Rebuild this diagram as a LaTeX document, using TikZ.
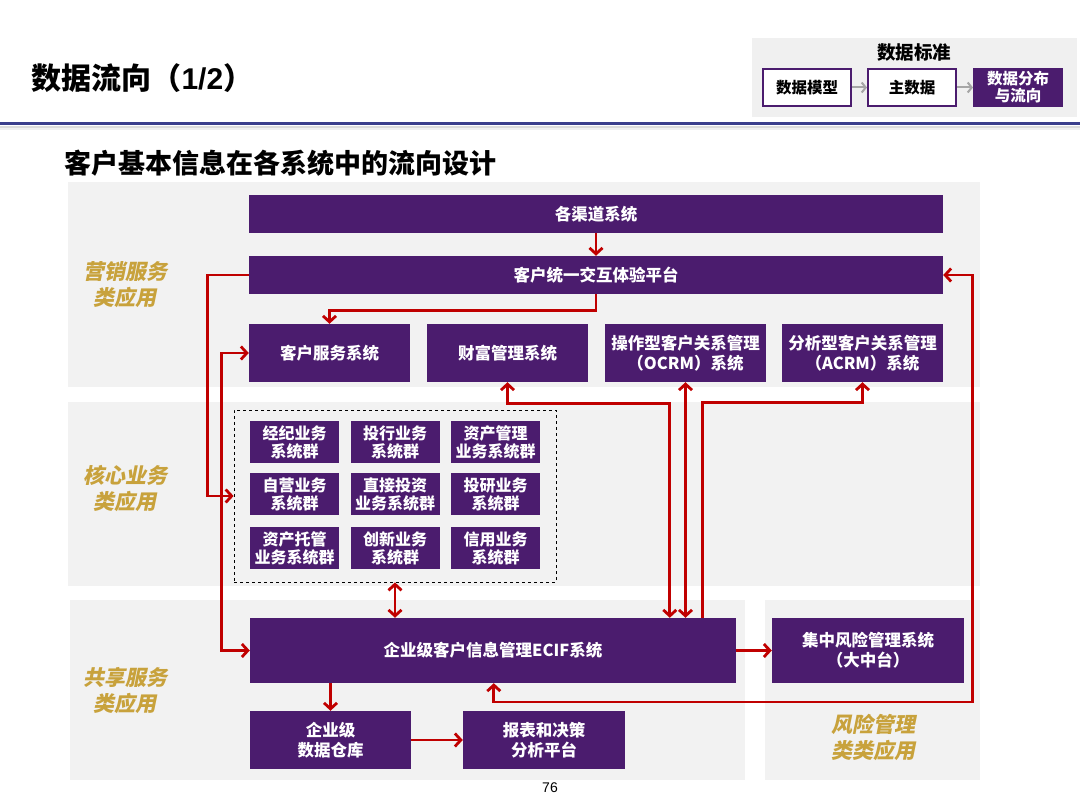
\documentclass[tikz,border=0pt]{standalone}
\usepackage{fontspec}
\setmainfont{Noto Sans CJK SC}
\newfontfamily\slantcjk{Noto Sans CJK SC}[FakeSlant=0.2]
\newfontfamily\arialnum{Liberation Sans}
\usetikzlibrary{arrows.meta}
\definecolor{purp}{RGB}{75,28,110}
\definecolor{flowred}{RGB}{192,0,0}
\definecolor{bandgray}{RGB}{242,242,242}
\definecolor{gold}{RGB}{200,162,60}
\definecolor{rulebl}{RGB}{59,63,140}
\begin{document}
\begin{tikzpicture}[x=1pt,y=-1pt,
  sysbox/.style={fill=purp, text=white, inner sep=0pt, align=center, font=\bfseries\fontsize{16.5}{20}\selectfont},
  subbox/.style={fill=purp, text=white, inner sep=0pt, align=center, minimum width=89pt, minimum height=42pt, font=\bfseries\fontsize{16}{18}\selectfont},
  hdrbox/.style={draw=purp, line width=2pt, fill=white, inner sep=0pt, align=center, minimum width=88pt, minimum height=37pt, font=\bfseries\fontsize{15.5}{18}\selectfont},
  bandlabel/.style={text=gold, align=center, font=\slantcjk\bfseries\fontsize{21}{26}\selectfont},
  flow/.style={draw=flowred, line width=2.8pt, -{Straight Barb[length=6pt,width=13pt]}},
  dflow/.style={draw=flowred, line width=2.8pt, {Straight Barb[length=6pt,width=13pt]}-{Straight Barb[length=6pt,width=13pt]}},
  hdrarrow/.style={draw=black!35, line width=2pt, -{Straight Barb[length=4pt,width=10pt]}}]
\useasboundingbox (0,0) rectangle (1080,810);
\fill[white] (0,0) rectangle (1080,810);
\node[anchor=west, font=\bfseries\fontsize{30}{34}\selectfont] (title) at (28,78) {数据流向（\textbf{\arialnum 1/2}）};
\draw[rulebl, line width=3pt] (0,124) -- (1080,124);
\draw[black!14, line width=2pt] (0,127.5) -- (1080,127.5);
\draw[black!6, line width=2pt] (0,129.5) -- (1080,129.5);
\fill[black!6] (752,38) rectangle (1077,117);
\node[font=\bfseries\fontsize{18.5}{22}\selectfont] (std) at (914,53) {数据标准};
\node[hdrbox] (model) at (807,87.5) {数据模型};
\node[hdrbox] (master) at (912,87.5) {主数据};
\node[hdrbox, fill=purp, text=white, font=\bfseries\fontsize{15.5}{17}\selectfont] (dist) at (1018,87.5) {数据分布\\与流向};
\draw[hdrarrow] (model) -- (master);
\draw[hdrarrow] (master) -- (dist);
\node[anchor=west, font=\bfseries\fontsize{27}{30}\selectfont] (subtitle) at (61,163) {客户基本信息在各系统中的流向设计};
\fill[bandgray] (68,182) rectangle (980,387);
\fill[bandgray] (68,402) rectangle (980,586);
\fill[bandgray] (70,600) rectangle (745,780);
\fill[bandgray] (765,600) rectangle (980,780);
\node[bandlabel] (lbmkt) at (125,285) {营销服务\\类应用};
\node[bandlabel] (lbcore) at (125,488) {核心业务\\类应用};
\node[bandlabel] (lbshare) at (125,691) {共享服务\\类应用};
\node[bandlabel] (lbrisk) at (873,737) {风险管理\\类类应用};
\node[sysbox, minimum width=694pt, minimum height=38pt] (chan) at (596,214) {各渠道系统};
\node[sysbox, minimum width=694pt, minimum height=38pt] (plat) at (596,275) {客户统一交互体验平台};
\node[sysbox, minimum width=161pt, minimum height=58pt] (csvc) at (329.5,353) {客户服务系统};
\node[sysbox, minimum width=161pt, minimum height=58pt] (wealth) at (507.5,353) {财富管理系统};
\node[sysbox, minimum width=161pt, minimum height=58pt] (ocrm) at (685.5,353) {操作型客户关系管理\\（OCRM）系统};
\node[sysbox, minimum width=161pt, minimum height=58pt] (acrm) at (862.5,353) {分析型客户关系管理\\（ACRM）系统};
\node[draw, dashed, line width=0.8pt, minimum width=322pt, minimum height=172pt] (core) at (395,496) {};
\node[subbox] (brk) at (294.5,442) {经纪业务\\系统群};
\node[subbox] (ibk) at (395,442) {投行业务\\系统群};
\node[subbox] (asm) at (495.5,442) {资产管理\\业务系统群};
\node[subbox] (prop) at (294.5,494) {自营业务\\系统群};
\node[subbox] (dinv) at (395,494) {直接投资\\业务系统群};
\node[subbox] (rsch) at (495.5,494) {投研业务\\系统群};
\node[subbox] (cust) at (294.5,548) {资产托管\\业务系统群};
\node[subbox] (innov) at (395,548) {创新业务\\系统群};
\node[subbox] (cred) at (495.5,548) {信用业务\\系统群};
\node[sysbox, minimum width=486pt, minimum height=65pt] (ecif) at (493,650.5) {企业级客户信息管理ECIF系统};
\node[sysbox, minimum width=192pt, minimum height=65pt] (risk) at (868,650.5) {集中风险管理系统\\（大中台）};
\node[sysbox, minimum width=161pt, minimum height=58pt] (dwh) at (330.5,740) {企业级\\数据仓库};
\node[sysbox, minimum width=162pt, minimum height=58pt] (rpt) at (544,740) {报表和决策\\分析平台};
\node[font=\arialnum\fontsize{14}{16}\selectfont] (page) at (550,788) {76};
\draw[flow] (chan) -- (plat);
\draw[flow] (plat.south) -- ++(0,16) -| (csvc.north);
\draw[flow] (plat.west) -- ++(-41,0) |- (core.west);
\draw[dflow] (csvc.west) -- ++(-27,0) |- (ecif.west);
\draw[dflow] (wealth.south) -- ++(0,21) -| ([xshift=420pt]ecif.north west);
\draw[dflow] (ocrm.south) -- (ocrm.south |- ecif.north);
\draw[flow] ([xshift=453pt]ecif.north west) -- ++(0,-215) -| (acrm.south);
\draw[dflow] (plat.east) -- ++(29,0) -- ++(0,427) -| ([xshift=244pt]ecif.south west);
\draw[dflow] (core.south) -- (core.south |- ecif.north);
\draw[flow] (ecif.east) -- (risk.west);
\draw[flow] (dwh.north |- ecif.south) -- (dwh.north);
\draw[flow] (dwh.east) -- (rpt.west);
\end{tikzpicture}
\end{document}
